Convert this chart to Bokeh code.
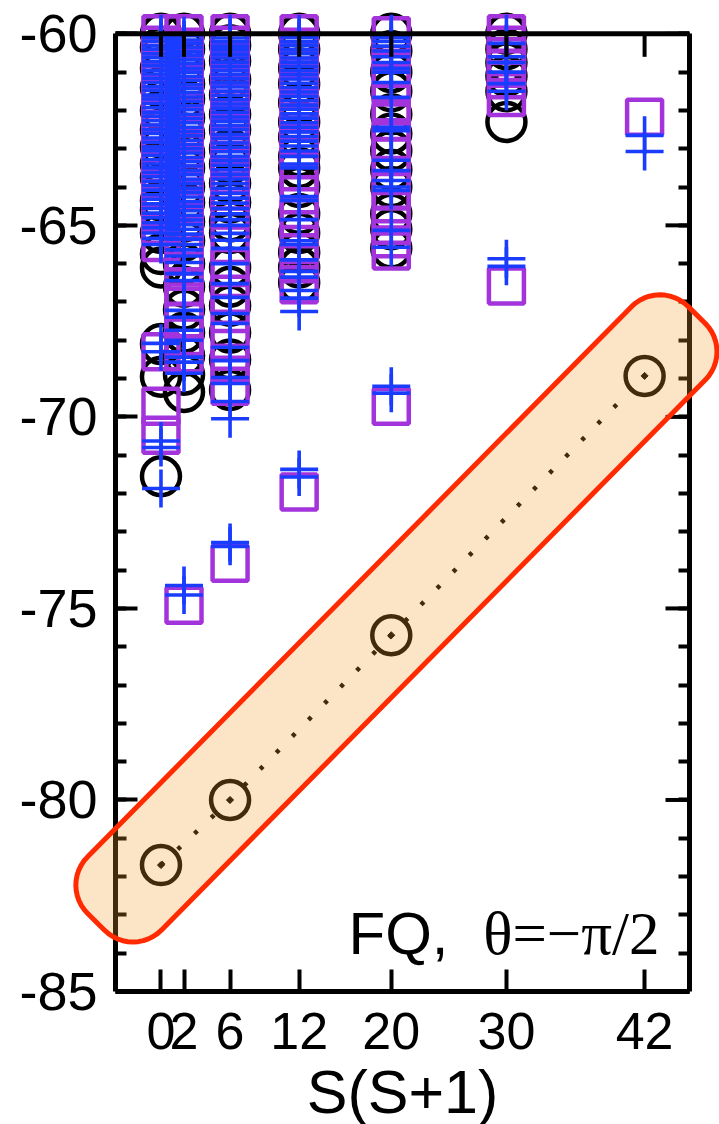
import math
from bokeh.plotting import figure
from bokeh.models import Range1d, LinearAxis, FixedTicker, Span, Label
from bokeh.core.properties import value
from bokeh.embed import file_html
from bokeh.resources import INLINE

# ---------------- data ----------------
x_tick_values = [0, 2, 6, 12, 20, 30, 42]
y_tick_values = [-85, -80, -75, -70, -65, -60]
y_tick_labels = ["-85", "-80", "-75", "-70", "-65", "-60"]
y_minor_values = list(range(-85, -59))

# black circles
circ_0 = [-60.0, -60.35, -60.9, -61.4, -62.0, -62.5, -62.95, -63.4, -63.75, -64.35, -64.6,
          -65.2, -65.75, -66.1, -68.1, -68.95, -71.55]
circ_2 = [-60.0, -60.4, -60.8, -61.3, -61.7, -62.2, -62.6, -63.1, -63.5, -64.0, -64.4, -64.9,
          -65.4, -66.0, -66.6, -67.2, -67.8, -68.4, -68.9, -69.35]
circ_6 = [-60.0, -60.3, -60.7, -61.2, -61.6, -62.1, -62.5, -63.0, -63.4, -63.9, -64.4, -64.9,
          -65.2, -66.1, -66.6, -67.1, -67.8, -68.5, -69.3]
circ_12 = [-60.0, -60.4, -60.9, -61.3, -61.8, -62.3, -62.7, -63.2, -63.5, -64.0, -64.7, -65.2,
           -65.7, -66.1, -66.5]
circ_20 = [-60.0, -60.45, -61.0, -61.5, -62.1, -62.6, -63.05, -63.55, -64.0, -64.7, -65.1, -65.6]
circ_30 = [-60.0, -60.4, -60.75, -61.1, -61.5, -62.3]

# purple squares
sq_0 = [-60.0, -60.3, -60.65, -61.0, -61.3, -61.7, -62.1, -62.5, -62.85, -63.2, -63.6, -64.0,
        -64.3, -64.7, -65.0, -65.45, -68.3, -69.72, -70.48]
sq_2 = [-60.0, -60.35, -60.7, -61.1, -61.45, -61.8, -62.2, -62.6, -63.0, -63.35, -63.7, -64.1,
        -64.5, -64.9, -65.3, -65.8, -66.2, -66.6, -67.0, -67.5, -67.9, -68.35, -74.92]
sq_6 = [-60.0, -60.3, -60.7, -61.05, -61.4, -61.8, -62.2, -62.55, -62.9, -63.3, -63.7, -64.1,
        -64.6, -65.5, -66.1, -66.8, -67.3, -68.0, -68.6, -69.2, -73.82]
sq_12 = [-60.0, -60.35, -60.7, -61.1, -61.5, -61.9, -62.3, -62.65, -63.0, -63.6, -64.2, -64.8,
         -65.5, -66.0, -66.55, -71.96]
sq_20 = [-60.05, -60.5, -60.9, -61.3, -61.8, -62.3, -62.8, -63.2, -63.7, -64.1, -64.6, -65.0,
         -65.35, -65.67, -69.72]
sq_30 = [-60.0, -60.3, -60.6, -60.9, -61.2, -61.66, -66.58]
sq_42 = [-62.18]

# blue crosses
pl_0 = [-60.0, -60.1, -60.2, -60.31, -60.4, -60.52, -60.62, -60.73, -60.83, -60.95, -61.05,
        -61.16, -61.27, -61.38, -61.48, -61.6, -61.7, -61.82, -61.93, -62.05, -62.15, -62.27,
        -62.38, -62.5, -62.6, -62.72, -62.83, -62.95, -63.05, -63.17, -63.28, -63.4, -63.5,
        -63.62, -63.73, -63.85, -63.96, -64.08, -64.2, -64.32, -64.44, -64.56, -64.68, -64.8,
        -64.93, -65.06, -65.2, -65.34, -65.5, -68.08, -68.3, -70.63, -70.8, -71.87]
pl_2 = [-60.05, -60.16, -60.26, -60.36, -60.47, -60.57, -60.68, -60.78, -60.9, -61.0, -61.11,
        -61.22, -61.33, -61.43, -61.54, -61.65, -61.76, -61.87, -61.98, -62.1, -62.21, -62.32,
        -62.44, -62.55, -62.66, -62.78, -62.89, -63.0, -63.11, -63.23, -63.34, -63.45, -63.57,
        -63.68, -63.8, -63.91, -64.03, -64.14, -64.26, -64.38, -64.5, -64.62, -64.74, -64.86,
        -64.98, -65.1, -65.23, -65.36, -65.5, -65.64, -65.8, -65.97, -66.26, -66.44, -67.22,
        -67.4, -67.74, -68.0, -68.44, -68.57, -68.86, -74.4, -74.65]
pl_6 = [-60.0, -60.11, -60.21, -60.32, -60.42, -60.53, -60.63, -60.74, -60.85, -60.96, -61.06,
        -61.17, -61.28, -61.39, -61.5, -61.61, -61.72, -61.83, -61.94, -62.05, -62.17, -62.28,
        -62.39, -62.5, -62.62, -62.73, -62.85, -62.96, -63.08, -63.2, -63.31, -63.43, -63.55,
        -63.67, -63.79, -63.91, -64.03, -64.16, -64.29, -64.42, -64.56, -64.7, -64.85, -65.0,
        -65.21, -65.39, -65.6, -66.0, -66.52, -66.88, -67.3, -67.56, -68.18, -68.53, -68.97,
        -69.13, -69.6, -70.05, -73.28, -73.38]
pl_12 = [-60.0, -60.1, -60.21, -60.31, -60.42, -60.52, -60.63, -60.74, -60.85, -60.96, -61.07,
         -61.18, -61.29, -61.4, -61.52, -61.63, -61.74, -61.86, -61.97, -62.09, -62.2, -62.32,
         -62.44, -62.56, -62.68, -62.8, -62.93, -63.06, -63.2, -63.4, -63.5, -64.25, -64.35,
         -64.85, -65.4, -65.5, -65.9, -66.2, -66.35, -66.7, -66.9, -67.25, -71.37, -71.57]
pl_20 = [-60.0, -60.1, -60.2, -60.32, -60.45, -60.6, -60.75, -60.9, -61.0, -61.27, -61.66,
         -62.44, -62.53, -63.3, -63.57, -63.83, -64.0, -64.09, -65.13, -65.57, -69.2, -69.38]
pl_30 = [-60.0, -60.25, -60.6, -60.75, -61.0, -61.3, -61.5, -65.87, -66.07]
pl_42 = [-62.65, -63.07]

# highlighted lowest states (circles joined by dotted line)
hl_x = [0, 6, 20, 42]
hl_y = [-81.7, -80.0, -75.7, -68.93]

x_title = "S(S+1)"
caption_sans = "FQ,"
caption_serif = "\u03b8=\u2212\u03c0/2"

# ---------------- geometry ----------------
W, H = 719, 1124
FRAME_L, FRAME_R, FRAME_T, FRAME_B = 115, 689, 0, 991
X0, X1 = -3.95, 45.9
Y0, Y1 = -85.0, -59.13
SX = (FRAME_R - FRAME_L) / (X1 - X0)
SY = (FRAME_B - FRAME_T) / (Y1 - Y0)

BLACK = "#000000"
PURPLE = "#A334DC"
BLUE = "#1A3CFF"
FONT = "Liberation Sans"


def flatten(cols):
    xs, ys = [], []
    for xv, vals in cols:
        xs += [xv] * len(vals)
        ys += vals
    return xs, ys


def dx(px):
    return X0 + (px - FRAME_L) / SX


def dy(py):
    return Y1 - (py - FRAME_T) / SY


cx, cy = flatten([(0, circ_0), (2, circ_2), (6, circ_6), (12, circ_12), (20, circ_20), (30, circ_30)])
qx, qy = flatten([(0, sq_0), (2, sq_2), (6, sq_6), (12, sq_12), (20, sq_20), (30, sq_30), (42, sq_42)])
px_, py_ = flatten([(0, pl_0), (2, pl_2), (6, pl_6), (12, pl_12), (20, pl_20), (30, pl_30), (42, pl_42)])

p = figure(width=W, height=H, x_range=Range1d(X0, X1), y_range=Range1d(Y0, Y1),
           output_backend="svg", toolbar_location=None,
           x_axis_type=None, y_axis_type=None,
           min_border_left=FRAME_L, min_border_right=W - FRAME_R,
           min_border_top=FRAME_T, min_border_bottom=H - FRAME_B)
p.outline_line_color = None
p.background_fill_color = "white"
p.border_fill_color = "white"

# bottom axis
xa = LinearAxis(ticker=FixedTicker(ticks=x_tick_values, minor_ticks=[]))
xa.axis_line_width = 5
xa.major_tick_in = 22
xa.major_tick_out = 0
xa.major_tick_line_width = 4
xa.major_label_text_font = FONT
xa.major_label_text_font_size = "52px"
xa.major_label_text_color = "black"
xa.major_label_standoff = 21
p.add_layout(xa, "below")

# left axis
ya = LinearAxis(ticker=FixedTicker(ticks=y_tick_values, minor_ticks=y_minor_values), bounds=(-85, -60))
ya.major_label_overrides = {v: s for v, s in zip(y_tick_values, y_tick_labels)}
ya.axis_line_width = 5
ya.major_tick_in = 22
ya.major_tick_out = 0
ya.minor_tick_in = 11
ya.minor_tick_out = 0
ya.major_tick_line_width = 4
ya.minor_tick_line_width = 4
ya.major_label_text_font = FONT
ya.major_label_text_font_size = "54px"
ya.major_label_text_color = "black"
ya.major_label_standoff = 18
p.add_layout(ya, "left")

# right axis: line + minor ticks (major ticks drawn below as segments, no labels)
ra = LinearAxis(ticker=FixedTicker(ticks=[], minor_ticks=y_minor_values), bounds=(-85, -60))
ra.axis_line_width = 5
ra.minor_tick_in = 11
ra.minor_tick_out = 0
ra.minor_tick_line_width = 4
ra.major_tick_line_color = None
p.add_layout(ra, "right")

# data markers
p.scatter(cx, cy, marker="circle", size=38, fill_color=None, line_color=BLACK, line_width=4.5)
p.scatter(qx, qy, marker="square", size=35, fill_color=None, line_color=PURPLE, line_width=4.5)
p.scatter(px_, py_, marker="cross", size=38, line_color=BLUE, line_width=3.6)

# highlighted series
p.line(hl_x, hl_y, line_dash="4 19", line_width=4.5, line_color=BLACK)
p.scatter(hl_x, hl_y, marker="circle", size=38, fill_color=None, line_color=BLACK, line_width=4.5)
p.scatter(hl_x, hl_y, marker="square", size=5, angle=math.pi / 4, color=BLACK)

# top frame line, top ticks and right major ticks
p.add_layout(Span(location=-60, dimension="width", line_width=5, line_color=BLACK, level="overlay"))
tick_len_y = 23 / SY
p.segment(x_tick_values, [-60] * len(x_tick_values), x_tick_values,
          [-60 - tick_len_y] * len(x_tick_values), line_width=4, line_color=BLACK, level="overlay")
tick_len_x = 24 / SX
p.segment([X1] * len(y_tick_values), y_tick_values, [X1 - tick_len_x] * len(y_tick_values),
          y_tick_values, line_width=4, line_color=BLACK, level="overlay")

# highlight band: rounded rectangle along the highlighted points (built in screen space)
ax_, ay_ = hl_x[0] * SX, -hl_y[0] * SY
bx_, by_ = hl_x[-1] * SX, -hl_y[-1] * SY
L = math.hypot(bx_ - ax_, by_ - ay_)
ux, uy = (bx_ - ax_) / L, (by_ - ay_) / L
nx, ny = -uy, ux
u_min, u_max, n_min, n_max, rad = -86.0, L + 80.0, -58.0, 46.0, 40.0
corners = [((u_max - rad, n_min + rad), -90), ((u_max - rad, n_max - rad), 0),
           ((u_min + rad, n_max - rad), 90), ((u_min + rad, n_min + rad), 180)]
band_x, band_y = [], []
for (cu, cn), a0 in corners:
    for k in range(13):
        t = math.radians(a0 + 90 * k / 12)
        uu, nn = cu + rad * math.cos(t), cn + rad * math.sin(t)
        band_x.append((ax_ + uu * ux + nn * nx) / SX)
        band_y.append(-(ay_ + uu * uy + nn * ny) / SY)
p.patch(band_x, band_y, fill_color="#F5A030", fill_alpha=0.27, line_color="#FF2A00",
        line_width=5, level="overlay")

# x axis title (drawn as text below the frame)
p.text(x=[(X0 + X1) / 2], y=[dy(1091)], text=[x_title], text_font=value(FONT),
       text_font_size="61px", text_color="black", text_align="center",
       text_baseline="alphabetic", level="overlay")

# caption
p.add_layout(Label(x=dx(348), y=dy(933), text=caption_sans, text_font=FONT, text_font_size="60px",
                   text_color="black", text_align="left", text_baseline="alphabetic"))
p.add_layout(Label(x=dx(659), y=dy(933), text=caption_serif, text_font="Liberation Serif",
                   text_font_size="61px", text_color="black", text_align="right",
                   text_baseline="alphabetic"))

open("out.html", "w").write(file_html(p, INLINE))
